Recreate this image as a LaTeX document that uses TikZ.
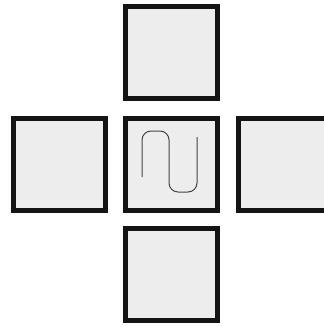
\documentclass[tikz,border=0pt]{standalone}
\usetikzlibrary{positioning}
\usepackage{xcolor}
\definecolor{Ink}{HTML}{141414}
\definecolor{Paper}{HTML}{EDEDED}

\begin{document}
\begin{tikzpicture}[x=1pt,y=-1pt,
    tile/.style={draw=Ink,line width=5pt,fill=Paper,minimum size=92pt,inner sep=0pt},
    wave/.style={draw=Ink!80,line width=1pt,rounded corners=9pt}
  ]
    \useasboundingbox (0,0) rectangle (324,327);
    \clip (0,0) rectangle (324,327);
    \node[tile] (mid) at (171,164.5) {};
    \node[tile,above=15pt of mid] (upper) {};
    \node[tile,left=15pt of mid] (lft) {};
    \node[tile,right=16pt of mid] (rgt) {};
    \node[tile,below=13pt of mid] (lower) {};
    \draw[wave] (mid.center) ++(-29,12.5) -- ++(0,-46) -- ++(27,0) -- ++(0,61) -- ++(28,0) -- ++(0,-55);
  \end{tikzpicture}
\end{document}
